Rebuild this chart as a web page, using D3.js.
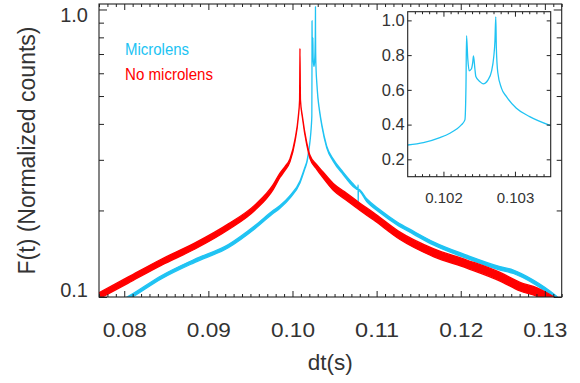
<!DOCTYPE html>
<html>
<head>
<meta charset="utf-8">
<script src="https://cdn.jsdelivr.net/npm/d3@7"></script>
<style>
  body { margin: 0; background: #fff; }
  svg { display: block; font-family: "Liberation Sans", Arial, Helvetica, sans-serif; }
</style>
</head>
<body>
<svg id="chart" width="580" height="383"></svg>
<script>
// Distribution F(t) of photon time intervals dt, with and without the microlens.

const seriesNames = ["Microlens", "No microlens"];

// Without microlens (red): dt (s), normalized counts, relative scatter of the counts
const redDt = [0.0770, 0.08048, 0.08445, 0.08841, 0.09237, 0.09554, 0.09772, 0.09851, 0.09911, 0.09970,
               0.10030, 0.10069, 0.10084, 0.10089, 0.10095, 0.10118, 0.10169, 0.10208, 0.10288, 0.10366,
               0.10485, 0.10644, 0.10803, 0.10961, 0.11278, 0.11674, 0.12071, 0.12467, 0.12705, 0.12907,
               0.13023, 0.1315];
const redF = [0.1010, 0.1146, 0.1323, 0.1505, 0.1754, 0.2046, 0.2415, 0.2652, 0.2798, 0.2990,
              0.3509, 0.4227, 0.4831, 0.7305, 0.4831, 0.4227, 0.3419, 0.3072, 0.2834, 0.2652,
              0.2415, 0.2230, 0.2058, 0.1911, 0.1632, 0.1427, 0.1302, 0.1176, 0.1086, 0.1040,
              0.1000, 0.0950];
const redScatter = [0.025, 0.025, 0.025, 0.025, 0.024, 0.022, 0.020, 0.018, 0.016, 0.013,
                    0.009, 0.006, 0.003, 0.003, 0.003, 0.006, 0.010, 0.013, 0.019, 0.024,
                    0.028, 0.030, 0.030, 0.030, 0.030, 0.032, 0.033, 0.035, 0.035, 0.035,
                    0.035, 0.035];

// With microlens (cyan)
const cyanDt = [0.0800, 0.08068, 0.08445, 0.08841, 0.09237, 0.09554, 0.09772, 0.09851, 0.09970, 0.10089,
                0.1015, 0.10172, 0.10195, 0.10209, 0.10218, 0.10225, 0.10230, 0.102315, 0.102323, 0.10234,
                0.10236, 0.10239, 0.10241, 0.10242, 0.10244, 0.102453, 0.102508, 0.102554, 0.102624, 0.102672,
                0.102704, 0.10272, 0.102732, 0.10274, 0.10276, 0.102811, 0.102881, 0.10302, 0.103206, 0.1035,
                0.10407, 0.10485, 0.10604, 0.10723, 0.10778, 0.10780, 0.10781, 0.10783, 0.10882, 0.11040,
                0.11239, 0.11436, 0.11674, 0.12071, 0.12467, 0.12626, 0.12863, 0.13121, 0.1320];
const cyanF = [0.0974, 0.1000, 0.1173, 0.1337, 0.1503, 0.1750, 0.1978, 0.2058, 0.2230, 0.2513,
               0.2825, 0.2958, 0.3247, 0.350, 0.373, 0.398, 0.427, 0.62, 0.912, 0.78,
               0.71, 0.72, 0.76, 0.796, 0.72, 0.677, 0.648, 0.635, 0.658, 0.706,
               0.792, 0.88, 1.02, 0.84, 0.70, 0.610, 0.561, 0.494, 0.446, 0.394,
               0.3326, 0.2990, 0.2688, 0.2447, 0.2375, 0.2440, 0.2120, 0.2360, 0.2172, 0.1987,
               0.1806, 0.1675, 0.1536, 0.1380, 0.1258, 0.1224, 0.1130, 0.1002, 0.0955];
const cyanScatter = [0.013, 0.013, 0.013, 0.013, 0.013, 0.013, 0.012, 0.011, 0.010, 0.008,
                     0.006, 0.005, 0.004, 0.003, 0.003, 0.003, 0.003, 0.002, 0.002, 0.002,
                     0.002, 0.002, 0.002, 0.002, 0.002, 0.002, 0.002, 0.002, 0.002, 0.002,
                     0.002, 0.002, 0.002, 0.002, 0.002, 0.002, 0.003, 0.003, 0.004, 0.005,
                     0.007, 0.009, 0.010, 0.011, 0.006, 0.006, 0.006, 0.006, 0.011, 0.012,
                     0.012, 0.012, 0.013, 0.013, 0.014, 0.014, 0.014, 0.014, 0.014];

// Tick labels
const xTickValues = [0.08, 0.09, 0.10, 0.11, 0.12, 0.13];
const xTickLabels = ["0.08", "0.09", "0.10", "0.11", "0.12", "0.13"];
const yTickValues = [0.1, 1.0];
const yTickLabels = ["0.1", "1.0"];
const yMinorValues = [0.2, 0.3, 0.4, 0.5, 0.6, 0.7, 0.8, 0.9];
const insetXTickValues = [0.102, 0.103];
const insetXTickLabels = ["0.102", "0.103"];
const insetYTickValues = [0.2, 0.4, 0.6, 0.8, 1.0];
const insetYTickLabels = ["0.2", "0.4", "0.6", "0.8", "1.0"];

const RED = "#ff0000";
const CYAN = "#20c3f3";
const INK = "#222";
const TEXT = "#333";

const svg = d3.select("#chart");

// Main panel
const M = { left: 99, right: 561.7, top: 4, bottom: 297 };
const x = d3.scaleLinear().domain([0.077, 0.132]).range([M.left, M.right]);
const y = d3.scaleLog().domain([0.1, 1.045]).range([M.bottom, M.top]);

// Inset panel
const I = { left: 407.7, right: 550.7, top: 11.7, bottom: 176.7 };
const ix = d3.scaleLinear().domain([0.1015, 0.1035]).range([I.left, I.right]);
const iy = d3.scaleLinear().domain([0.1, 1.05]).range([I.bottom, I.top]);

const defs = svg.append("defs");
defs.append("clipPath").attr("id", "clip-main").append("rect")
  .attr("x", M.left).attr("y", M.top).attr("width", M.right - M.left).attr("height", M.bottom - M.top);
defs.append("clipPath").attr("id", "clip-inset").append("rect")
  .attr("x", I.left).attr("y", I.top).attr("width", I.right - I.left).attr("height", I.bottom - I.top);

function rows(dt, F, s) {
  return dt.map((d, i) => ({ dt: d, F: F[i], lo: F[i] / (1 + s[i]), hi: F[i] * (1 + s[i]) }));
}
const redData = rows(redDt, redF, redScatter);
const cyanData = rows(cyanDt, cyanF, cyanScatter);

const band = d3.area()
  .curve(d3.curveMonotoneX)
  .x(d => x(d.dt))
  .y0(d => y(d.lo))
  .y1(d => y(d.hi));

const curves = svg.append("g").attr("clip-path", "url(#clip-main)");
[[cyanData, CYAN], [redData, RED]].forEach(([data, color]) => {
  curves.append("path")
    .datum(data)
    .attr("d", band)
    .attr("fill", color)
    .attr("stroke", color)
    .attr("stroke-width", 1.3)
    .attr("stroke-linejoin", "round");
});

// Legend
const legend = svg.append("g").attr("font-size", 16);
legend.append("text").attr("x", 125).attr("y", 55).attr("fill", CYAN)
  .attr("textLength", 64).attr("lengthAdjust", "spacingAndGlyphs").text(seriesNames[0]);
legend.append("text").attr("x", 125).attr("y", 80).attr("fill", RED)
  .attr("textLength", 88).attr("lengthAdjust", "spacingAndGlyphs").text(seriesNames[1]);

function styleAxis(g, fontSize) {
  g.attr("font-family", null).attr("font-size", null);
  g.select(".domain").remove();
  g.selectAll(".tick line").attr("stroke", INK).attr("stroke-width", 1);
  g.selectAll("text").attr("fill", TEXT).attr("font-size", fontSize);
  return g;
}

// Main axes: minor ticks
const xMinor = d3.range(77, 133).filter(v => v % 10 !== 0).map(v => v / 1000);
styleAxis(svg.append("g").attr("transform", `translate(0,${M.bottom})`)
  .call(d3.axisBottom(x).tickValues(xMinor).tickSize(-3).tickFormat("")), 0);
styleAxis(svg.append("g").attr("transform", `translate(0,${M.top})`)
  .call(d3.axisTop(x).tickValues(xMinor).tickSize(-3).tickFormat("")), 0);
styleAxis(svg.append("g").attr("transform", `translate(${M.left},0)`)
  .call(d3.axisLeft(y).tickValues(yMinorValues).tickSize(-5).tickFormat("")), 0);
styleAxis(svg.append("g").attr("transform", `translate(${M.right},0)`)
  .call(d3.axisRight(y).tickValues(yMinorValues).tickSize(-5).tickFormat("")), 0);

// Main axes: major ticks and labels
const gxb = styleAxis(svg.append("g").attr("transform", `translate(0,${M.bottom})`)
  .call(d3.axisBottom(x).tickValues(xTickValues).tickSize(-6).tickPadding(25.5)
    .tickFormat((d, i) => xTickLabels[i])), 20);
gxb.selectAll("text").attr("textLength", 44).attr("lengthAdjust", "spacingAndGlyphs");
styleAxis(svg.append("g").attr("transform", `translate(0,${M.top})`)
  .call(d3.axisTop(x).tickValues(xTickValues).tickSize(-6).tickFormat("")), 0);
const gyl = styleAxis(svg.append("g").attr("transform", `translate(${M.left},0)`)
  .call(d3.axisLeft(y).tickValues(yTickValues).tickSize(-8).tickPadding(11)
    .tickFormat((d, i) => yTickLabels[i])), 20);
// labels kept inside the axis range: lowest sits above its tick, highest below
gyl.selectAll("text").attr("dy", d => d === yTickValues[0] ? "-0.02em" : "0.6em");
styleAxis(svg.append("g").attr("transform", `translate(${M.right},0)`)
  .call(d3.axisRight(y).tickValues(yTickValues).tickSize(-8).tickFormat("")), 0);

// Main frame
svg.append("rect")
  .attr("x", M.left).attr("y", M.top)
  .attr("width", M.right - M.left).attr("height", M.bottom - M.top)
  .attr("fill", "none").attr("stroke", INK).attr("stroke-width", 1.1);

// Axis titles
svg.append("text")
  .attr("x", (M.left + M.right) / 2).attr("y", 370)
  .attr("text-anchor", "middle").attr("font-size", 22.5).attr("fill", TEXT)
  .text("dt(s)");
svg.append("text")
  .attr("transform", `translate(35,${(M.top + M.bottom) / 2}) rotate(-90)`)
  .attr("text-anchor", "middle").attr("font-size", 23).attr("fill", TEXT)
  .text("F(t) (Normalized counts)");

// Inset: close-up of the microlens peaks
svg.append("rect")
  .attr("x", I.left).attr("y", I.top)
  .attr("width", I.right - I.left).attr("height", I.bottom - I.top)
  .attr("fill", "#fff");

const insetLine = d3.line().curve(d3.curveMonotoneX).x(d => ix(d.dt)).y(d => iy(d.F));
svg.append("g").attr("clip-path", "url(#clip-inset)")
  .append("path")
  .datum(cyanData.filter(d => d.dt >= 0.1012 && d.dt <= 0.1038))
  .attr("d", insetLine)
  .attr("fill", "none")
  .attr("stroke", CYAN)
  .attr("stroke-width", 1.3)
  .attr("stroke-linejoin", "round");

const ixMinor = d3.range(1016, 1035).filter(v => v % 10 !== 0).map(v => v / 10000);
styleAxis(svg.append("g").attr("transform", `translate(0,${I.bottom})`)
  .call(d3.axisBottom(ix).tickValues(ixMinor).tickSize(-2.5).tickFormat("")), 0);
styleAxis(svg.append("g").attr("transform", `translate(0,${I.top})`)
  .call(d3.axisTop(ix).tickValues(ixMinor).tickSize(-2.5).tickFormat("")), 0);
styleAxis(svg.append("g").attr("transform", `translate(0,${I.bottom})`)
  .call(d3.axisBottom(ix).tickValues(insetXTickValues).tickSize(-5).tickPadding(15.5)
    .tickFormat((d, i) => insetXTickLabels[i])), 15);
styleAxis(svg.append("g").attr("transform", `translate(0,${I.top})`)
  .call(d3.axisTop(ix).tickValues(insetXTickValues).tickSize(-5).tickFormat("")), 0);
styleAxis(svg.append("g").attr("transform", `translate(${I.left},0)`)
  .call(d3.axisLeft(iy).tickValues(insetYTickValues).tickSize(-4).tickPadding(3)
    .tickFormat((d, i) => insetYTickLabels[i])), 16.5);
styleAxis(svg.append("g").attr("transform", `translate(${I.right},0)`)
  .call(d3.axisRight(iy).tickValues(insetYTickValues).tickSize(-4).tickFormat("")), 0);

svg.append("rect")
  .attr("x", I.left).attr("y", I.top)
  .attr("width", I.right - I.left).attr("height", I.bottom - I.top)
  .attr("fill", "none").attr("stroke", INK).attr("stroke-width", 1.1);
</script>
</body>
</html>
